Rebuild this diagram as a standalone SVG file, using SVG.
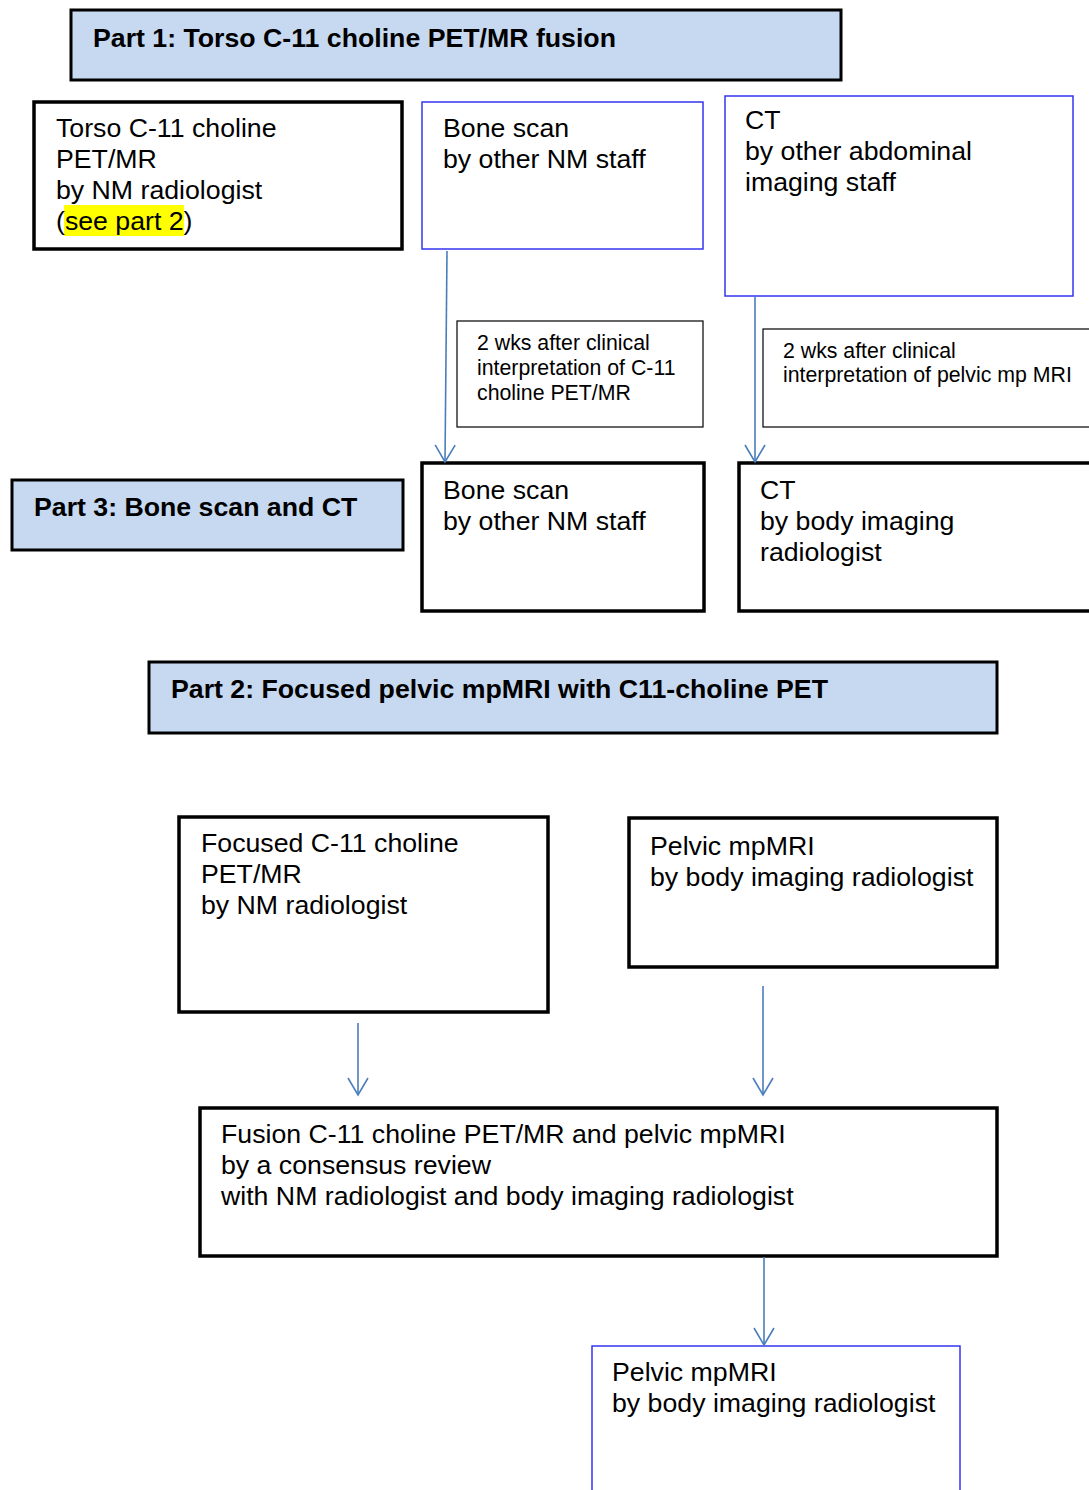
<svg xmlns="http://www.w3.org/2000/svg" width="1089" height="1490" viewBox="0 0 1089 1490">
<style>
text{font-family:"Liberation Sans",Arial,sans-serif;fill:#000}
.h{fill:#c6d9f1;stroke:#000;stroke-width:3}
.hb{font-weight:bold;font-size:26.7px}
.k{fill:#fff;stroke:#000;stroke-width:3.5}
.b{fill:#fff;stroke:#3535f0;stroke-width:1.5}
.n{fill:#fff;stroke:#000;stroke-width:1.2}
.t{font-size:26.7px}
.s{font-size:21.3px}
.c{stroke:#4a7ebb;stroke-width:1.6;fill:none;marker-end:url(#ah)}
</style>
<defs>
<marker id="ah" markerUnits="userSpaceOnUse" markerWidth="40" markerHeight="40" refX="0" refY="0" orient="auto" overflow="visible">
<path d="M-17,-10 L0,0 L-17,10" fill="none" stroke="#4a7ebb" stroke-width="1.6"/>
</marker>
</defs>
<rect width="1089" height="1490" fill="#fff"/>

<g id="part1">
<rect class="h" x="71" y="10" width="770" height="70"/>
<text class="hb" x="93" y="47">Part 1: Torso C-11 choline PET/MR fusion</text>
</g>

<g id="torso">
<rect class="k" x="34" y="102" width="368" height="147"/>
<rect x="64" y="205" width="120" height="31" fill="#ffff00"/>
<text class="t" x="56" y="137">Torso C-11 choline</text>
<text class="t" x="56" y="168">PET/MR</text>
<text class="t" x="56" y="199">by NM radiologist</text>
<text class="t" x="56" y="230">(see part 2)</text>
</g>

<g id="bone1">
<rect class="b" x="422" y="102" width="281" height="147"/>
<text class="t" x="443" y="137">Bone scan</text>
<text class="t" x="443" y="168">by other NM staff</text>
</g>

<g id="ct1">
<rect class="b" x="725" y="96" width="348" height="200"/>
<text class="t" x="745" y="129">CT</text>
<text class="t" x="745" y="160">by other abdominal</text>
<text class="t" x="745" y="191">imaging staff</text>
</g>

<g id="note1">
<rect class="n" x="457" y="321" width="246" height="106"/>
<text class="s" x="477" y="350">2 wks after clinical</text>
<text class="s" x="477" y="375">interpretation of C-11</text>
<text class="s" x="477" y="400">choline PET/MR</text>
</g>

<g id="note2">
<rect class="n" x="763" y="329" width="340" height="98"/>
<text class="s" x="783" y="358">2 wks after clinical</text>
<text class="s" x="783" y="382">interpretation of pelvic mp MRI</text>
</g>

<g id="part3">
<rect class="h" x="12" y="480" width="391" height="70"/>
<text class="hb" x="34" y="516">Part 3: Bone scan and CT</text>
</g>

<g id="bone2">
<rect class="k" x="422" y="463" width="282" height="148"/>
<text class="t" x="443" y="499">Bone scan</text>
<text class="t" x="443" y="530">by other NM staff</text>
</g>

<g id="ct2">
<rect class="k" x="739" y="463" width="360" height="148"/>
<text class="t" x="760" y="499">CT</text>
<text class="t" x="760" y="530">by body imaging</text>
<text class="t" x="760" y="561">radiologist</text>
</g>

<g id="part2">
<rect class="h" x="149" y="662" width="848" height="71"/>
<text class="hb" x="171" y="698">Part 2: Focused pelvic mpMRI with C11-choline PET</text>
</g>

<g id="focused">
<rect class="k" x="179" y="817" width="369" height="195"/>
<text class="t" x="201" y="852">Focused C-11 choline</text>
<text class="t" x="201" y="883">PET/MR</text>
<text class="t" x="201" y="914">by NM radiologist</text>
</g>

<g id="pelvic1">
<rect class="k" x="629" y="818" width="368" height="149"/>
<text class="t" x="650" y="855">Pelvic mpMRI</text>
<text class="t" x="650" y="886">by body imaging radiologist</text>
</g>

<g id="fusion">
<rect class="k" x="200" y="1108" width="797" height="148"/>
<text class="t" x="221" y="1143">Fusion C-11 choline PET/MR and pelvic mpMRI</text>
<text class="t" x="221" y="1174">by a consensus review</text>
<text class="t" x="221" y="1205">with NM radiologist and body imaging radiologist</text>
</g>

<g id="pelvic2">
<rect class="b" x="592" y="1346" width="368" height="160"/>
<text class="t" x="612" y="1381">Pelvic mpMRI</text>
<text class="t" x="612" y="1412">by body imaging radiologist</text>
</g>

<g id="connectors">
<path class="c" d="M447,251 L445,462"/>
<path class="c" d="M755,297 L755,462"/>
<path class="c" d="M358,1023 L358,1095"/>
<path class="c" d="M763,986 L763,1095"/>
<path class="c" d="M764,1257 L764,1345"/>
</g>
</svg>
